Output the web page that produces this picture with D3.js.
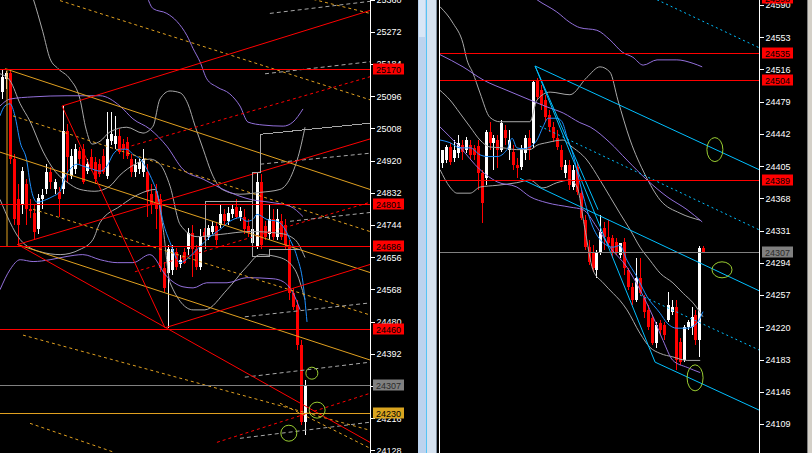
<!DOCTYPE html>
<html><head><meta charset="utf-8">
<script src="https://cdn.jsdelivr.net/npm/d3@7"></script>
<style>
body{margin:0;background:#000;overflow:hidden}
svg{display:block}
text{font-family:"Liberation Sans",Arial,sans-serif;font-size:9px}
</style>
</head><body>
<svg id="c" width="812" height="453"></svg>
<script>
// ---------------- DATA ----------------
const leftTicks = [25360,25272,25184,25096,25008,24920,24832,24744,24656,24568,24480,24392,24304,24216,24128];
const rightTicks = [24590,24553,24516,24479,24442,24405,24368,24331,24294,24257,24220,24183,24146,24109];

// [open, high, low, close]
const leftCandles = [
[25108,25171,25088,25149],[25143,25165,25116,25160],[25160,25171,24910,24924],[24924,24937,24745,24759],
[24814,24855,24690,24745],[24800,24902,24773,24891],[24855,24869,24745,24787],[24787,24814,24764,24781],
[24778,24800,24704,24726],[24732,24828,24718,24819],[24814,24841,24787,24825],[24841,24910,24828,24888],
[24888,24902,24841,24861],[24841,24869,24828,24861],[24833,24847,24767,24814],[24841,25069,24828,25001],
[25001,25020,24861,24929],[24877,24951,24869,24932],[24896,24965,24883,24951],[24946,24957,24910,24924],
[24951,24965,24855,24861],[24891,24924,24883,24910],[24929,24951,24891,24896],[24915,24929,24855,24869],
[24910,24924,24874,24883],[24932,24951,24883,24888],[24877,25053,24869,24979],[24973,25053,24962,24992],
[24965,25042,24951,24987],[24987,25006,24937,24943],[24965,24979,24924,24951],[24970,24984,24924,24932],
[24924,24937,24874,24888],[24888,24924,24874,24907],[24896,24924,24883,24915],[24888,24951,24874,24924],
[24888,24910,24767,24833],[24828,24855,24773,24800],[24836,24855,24732,24787],[24814,24828,24616,24627],
[24627,24644,24561,24572],[24614,24690,24463,24677],[24622,24690,24608,24677],[24669,24682,24622,24630],
[24636,24663,24627,24649],[24669,24682,24636,24641],[24677,24737,24663,24723],[24723,24745,24603,24677],
[24677,24690,24622,24630],[24630,24732,24622,24712],[24726,24737,24704,24710],[24712,24745,24704,24737],
[24726,24754,24718,24740],[24740,24751,24690,24704],[24745,24800,24737,24773],[24773,24787,24745,24754],
[24754,24792,24743,24778],[24773,24800,24764,24787],[24792,24814,24759,24767],[24767,24792,24754,24781],
[24767,24787,24718,24732],[24740,24759,24710,24723],[24696,24745,24682,24732],[24685,24888,24677,24861],
[24861,24883,24677,24690],[24740,24754,24704,24712],[24718,24800,24704,24759],[24759,24787,24704,24712],
[24712,24787,24704,24759],[24754,24773,24704,24712],[24745,24759,24677,24690],[24690,24704,24540,24559],
[24559,24572,24512,24520],[24526,24540,24402,24416],[24416,24430,24197,24205],[24205,24320,24169,24307]
];

const rightCandles = [
[24409,24424,24403,24424],[24412,24429,24409,24427],[24427,24432,24406,24410],[24414,24435,24410,24424],
[24420,24441,24414,24432],[24429,24435,24412,24421],[24424,24438,24420,24435],[24429,24435,24412,24418],
[24426,24429,24412,24418],[24428,24435,24378,24397],[24397,24401,24340,24363],[24391,24447,24383,24444],
[24444,24456,24424,24432],[24432,24441,24401,24437],[24435,24441,24403,24424],[24424,24458,24421,24455],
[24447,24452,24429,24437],[24424,24447,24412,24435],[24421,24429,24401,24406],[24406,24414,24391,24403],
[24404,24429,24401,24426],[24420,24441,24412,24437],[24437,24447,24412,24424],[24432,24504,24426,24502],
[24504,24506,24481,24484],[24492,24498,24469,24475],[24481,24487,24456,24461],[24464,24469,24444,24450],
[24450,24456,24433,24437],[24437,24447,24424,24427],[24424,24429,24401,24404],[24397,24412,24391,24406],
[24406,24412,24378,24383],[24381,24406,24378,24401],[24404,24410,24372,24375],[24374,24378,24343,24345],
[24343,24349,24309,24312],[24312,24320,24292,24295],[24307,24314,24283,24288],[24286,24309,24277,24307],
[24306,24349,24303,24329],[24334,24341,24309,24324],[24324,24343,24314,24317],[24323,24326,24300,24306],
[24318,24323,24303,24307],[24303,24317,24300,24317],[24318,24323,24280,24288],[24286,24288,24263,24266],
[24266,24271,24246,24251],[24251,24300,24249,24277],[24277,24300,24257,24259],[24254,24257,24231,24237],
[24240,24246,24217,24220],[24231,24234,24200,24202],[24202,24226,24196,24223],[24225,24228,24211,24217],
[24223,24226,24205,24211],[24228,24261,24226,24246],[24238,24251,24234,24243],[24243,24251,24171,24182],
[24203,24208,24177,24180],[24182,24223,24180,24220],[24220,24228,24217,24226],[24220,24243,24211,24232],
[24234,24240,24200,24205],[24205,24313,24186,24311],[24311,24313,24306,24307]
];

// horizontal levels
const leftRedLevels = [25170,24801,24686,24460];
const leftBid = 24307;
const leftOrangeLevel = 24230;
const rightRedLevels = [24598,24535,24504,24389];
const rightBid = 24307;

// trend lines: [[barIndex, price],[barIndex, price]]
const leftRedSolid = [
 [[14.85,25069],[91.1,25330]], [[14.85,25069],[40.35,24463]], [[40.35,24463],[91.1,24636]],
 [[3.96,24690],[91.1,24150]], [[3.71,24690],[91.1,24979]]
];
const leftOrangeSolid = [
 [[0.74,25171],[91.1,24841]], [[-0.5,24943],[91.1,24614]], [[3.96,24690],[91.1,24375]],
 [[1.24,25171],[1.24,24685]]
];
const leftOrangeDash = [
 [[14.36,25357],[91.1,25086]], [[71.3,25376],[91.1,25322]], [[2.72,25042],[91.1,24726]],
 [[7.67,24787],[91.1,24498]], [[5.2,24443],[91.1,24183]], [[6.93,24202],[27.97,24122]],
 [[68.8,24257],[91.1,24134]]
];
const leftRedDash = [
 [[29.2,24951],[91.1,25149]], [[32.9,24616],[91.1,24806]], [[53.2,24150],[91.1,24284]]
];
const leftGrayDash = [
 [[66.3,25322],[91.1,25355]], [[65.1,25157],[91.1,25190]], [[63.9,24910],[91.1,24940]],
 [[71.3,24754],[91.1,24778]], [[60.1,24493],[91.1,24531]], [[60.1,24328],[91.1,24369]],
 [[58.9,24161],[91.1,24205]]
];
const leftGraySteps = [
 [[50.25,24677],[50.25,24808],[62.1,24808],[62.1,24888],[64.1,24888],[64.1,24992],[91.1,25022]],
 [[62.1,24808],[62.1,24658],[66.3,24658],[66.3,24677],[73.8,24677]]
];

const rightCyanSolid = [
 [[23.5,24520],[80.05,24401]], [[19.7,24391],[80.05,24262]], [[53.8,24180],[80.05,24125]],
 [[23.5,24520],[53.8,24180]], [[23.5,24520],[39.4,24355]]
];
const rightCyanDot = [
 [[54.3,24596],[80.05,24541]], [[24.7,24451],[80.05,24332]], [[50,24257],[80.05,24194]]
];

// indicator curves: [barIndex, price]
const leftUpperBand = [[6.9,25390],[7.7,25363],[10.1,25272],[11.9,25198],[13.9,25171],[16.8,25143],[19.3,25088],[20.8,25006],[22.3,24965],[24.3,24973],[26.7,24998],[30.9,25011],[34.9,24995],[37.4,25014],[39.1,25088],[41.6,25110],[44.1,25105],[46.0,25075],[47.8,25014],[49.8,24951],[52.0,24883],[54.5,24841],[58.9,24828],[63.9,24833],[68.8,24841],[71.8,24883],[73.8,24951],[75.0,25011]];
const leftMidBand = [[-0.5,25157],[2.0,25138],[4.5,25075],[6.9,25028],[10.1,24946],[13.1,24891],[16.1,24861],[19.3,24841],[23.0,24836],[26.7,24850],[29.2,24880],[32.9,24910],[36.6,24924],[39.1,24910],[41.6,24850],[44.1,24745],[48.3,24712],[54.0,24718],[61.4,24726],[68.8,24721],[72.5,24704],[75.0,24655]];
const leftLowerBand = [[-0.5,24814],[4.5,24704],[9.4,24671],[14.4,24663],[19.3,24677],[22.5,24704],[24.3,24751],[29.2,24795],[34.9,24833],[37.9,24841],[39.9,24732],[41.6,24586],[47.3,24512],[50.2,24512],[55.7,24567],[60.6,24630],[63.9,24663],[68.8,24655],[72.5,24622],[75.0,24540]];
const leftPurpleA = [[35.4,25390],[36.1,25363],[37.4,25335],[40.8,25322],[43.3,25300],[45.8,25261],[47.3,25226],[49.0,25190],[50.7,25143],[53.2,25121],[56.4,25102],[58.9,25069],[60.9,25025],[64.6,25017],[69.6,25014],[72.0,25025],[74.5,25061]];
const leftPurpleB = [[-0.5,25069],[2.0,25088],[7.7,25094],[16.1,25097],[24.3,25097],[29.2,25069],[32.4,25034],[36.6,25006],[40.8,24959],[44.8,24896],[49.8,24869],[56.4,24833],[61.4,24814],[66.3,24806],[71.3,24795],[74.5,24767]];
const leftPurpleC = [[-0.5,24567],[2.0,24622],[4.5,24649],[7.7,24644],[11.9,24649],[16.1,24658],[20.0,24663],[24.3,24649],[28.5,24641],[32.4,24641],[36.6,24663],[40.8,24603],[44.8,24575],[47.3,24572],[50.7,24586],[55.7,24586],[60.6,24600],[67.1,24597],[69.6,24589],[72.0,24559],[73.8,24512]];
const leftBlueMA = [[-0.5,25042],[0.7,25069],[2.0,25075],[3.2,25042],[4.5,24970],[6.2,24915],[6.9,24861],[7.7,24822],[8.7,24806],[11.1,24814],[12.6,24822],[14.4,24836],[15.1,24861],[16.8,24896],[18.6,24910],[20.0,24905],[22.5,24896],[24.3,24891],[26.0,24905],[27.5,24937],[29.2,24951],[30.9,24951],[32.4,24937],[34.2,24924],[35.9,24896],[37.4,24861],[38.4,24833],[39.9,24751],[41.6,24696],[44.1,24641],[46.5,24658],[49.0,24685],[51.5,24712],[54.0,24732],[56.4,24754],[58.9,24764],[60.6,24754],[62.1,24759],[63.1,24773],[65.6,24759],[68.1,24754],[69.6,24740],[71.3,24704],[73.0,24658],[74.5,24586],[75.5,24479]];

const rightUpperBand = [[-0.5,24588],[2.8,24569],[5.3,24546],[6.3,24527],[7.8,24512],[9.6,24489],[12.1,24461],[14.6,24456],[22.2,24456],[24.0,24481],[27.3,24490],[32.3,24487],[36.6,24507],[39.9,24519],[42.4,24513],[44.4,24481],[47.5,24435],[51.3,24395],[55.1,24366],[60.1,24351],[65.2,24343]];
const rightMidBand = [[-0.5,24492],[2.0,24481],[4.5,24466],[7.1,24450],[9.6,24435],[12.1,24427],[15.4,24426],[18.9,24424],[22.2,24424],[24.0,24429],[26.5,24432],[30.6,24435],[32.3,24429],[36.6,24412],[39.9,24389],[42.4,24370],[44.9,24351],[47.5,24332],[50.0,24312],[52.5,24297],[55.1,24282],[58.3,24271],[60.9,24259],[63.4,24248],[65.9,24232]];
const rightLowerBand = [[-0.5,24401],[2.0,24381],[3.8,24374],[7.1,24374],[9.6,24381],[13.9,24383],[18.9,24386],[22.2,24389],[25.5,24380],[29.0,24386],[32.3,24389],[34.1,24381],[36.0,24335],[38.1,24286],[40.7,24271],[43.2,24259],[44.9,24251],[46.7,24240],[50.0,24213],[52.5,24197],[55.1,24190],[58.3,24186],[61.9,24182],[65.2,24182]];
const rightPurpleA = [[21.5,24605],[24.0,24596],[29.0,24582],[32.3,24570],[34.8,24564],[39.1,24561],[42.4,24550],[45.5,24536],[48.2,24530],[50.8,24521],[54.3,24527],[59.3,24527],[63.4,24523],[65.7,24519]];
const rightPurpleB = [[-0.5,24533],[5.3,24519],[10.4,24504],[16.4,24492],[22.2,24481],[26.5,24473],[30.6,24466],[34.8,24455],[37.4,24450],[42.4,24432],[46.7,24412],[51.8,24389],[56.8,24370],[61.9,24355],[65.7,24341]];
const rightPurpleC = [[-0.5,24450],[4.5,24427],[9.6,24401],[13.9,24387],[18.9,24381],[22.2,24370],[26.5,24363],[32.3,24358],[35.6,24355],[39.1,24335],[42.4,24312],[46.7,24289],[50.0,24263],[53.3,24232],[55.8,24205],[58.3,24182],[61.9,24174],[65.2,24168]];
const rightBlueMA = [[-0.5,24435],[2.0,24432],[4.5,24426],[7.1,24426],[9.6,24418],[11.6,24416],[13.9,24416],[16.4,24424],[17.7,24437],[18.9,24426],[20.5,24425],[22.2,24427],[24.0,24435],[25.5,24450],[26.8,24460],[29.0,24460],[30.3,24456],[31.6,24438],[33.1,24418],[34.8,24386],[38.1,24335],[40.7,24317],[43.2,24312],[44.9,24314],[46.7,24297],[49.2,24278],[51.8,24255],[55.1,24236],[56.8,24225],[59.3,24219],[61.9,24219],[64.4,24225],[65.9,24238]];

// annotation ellipses (barIndex, price)
const leftMarks = [[76.7,24339],[78.0,24238],[71.0,24175]];
const rightMarks = [[68.9,24424],[70.7,24286],[63.9,24162]];

// ---------------- DRAWING ----------------
const W = 812, H = 453;
const svg = d3.select('#c');
svg.append('rect').attr('width', W).attr('height', H).attr('fill', '#000');
const defs = svg.append('defs');

const COL = {red:'#ff0000', orange:'#e0a020', gray:'#a8a8a8', purple:'#9370db', blue:'#1e90ff', cyan:'#00bfff', green:'#9acd32', bid:'#808080'};

function drawPanel(cfg) {
  const x = cfg.x, y = cfg.y;
  defs.append('clipPath').attr('id', cfg.id).append('rect')
    .attr('x', cfg.left).attr('y', 0).attr('width', cfg.axisX - cfg.left).attr('height', H);
  const plot = svg.append('g').attr('clip-path', `url(#${cfg.id})`);

  // candles
  const cg = plot.append('g').attr('shape-rendering', 'crispEdges');
  cfg.candles.forEach((c, i) => {
    const [o, h, l, cl] = c;
    const up = cl >= o;
    const cx = Math.round(x(i)) + 0.5;
    const col = up ? '#ffffff' : COL.red;
    cg.append('line').attr('x1', cx).attr('x2', cx).attr('y1', y(h)).attr('y2', y(l)).attr('stroke', col);
    const top = y(Math.max(o, cl)), bot = y(Math.min(o, cl));
    cg.append('rect').attr('x', cx - 1.5).attr('width', 3)
      .attr('y', top).attr('height', Math.max(1, bot - top)).attr('fill', col);
  });

  // indicators
  const curve = d3.line().x(d => x(d[0])).y(d => y(d[1])).curve(d3.curveMonotoneX);
  const ind = (arr, col) => plot.append('path').attr('d', curve(arr)).attr('fill', 'none').attr('stroke', col).attr('stroke-width', 1);
  cfg.bands.forEach(b => ind(b, COL.gray));
  cfg.purples.forEach(b => ind(b, COL.purple));
  ind(cfg.blue, COL.blue);

  // trend lines
  const seg = (list, col, dash) => list.forEach(p => {
    plot.append('line')
      .attr('x1', x(p[0][0])).attr('y1', y(p[0][1]))
      .attr('x2', x(p[1][0])).attr('y2', y(p[1][1]))
      .attr('stroke', col).attr('stroke-width', 1)
      .attr('stroke-dasharray', dash || null);
  });
  (cfg.lines || []).forEach(L => seg(L.data, L.col, L.dash));
  const poly = d3.line().x(d => x(d[0])).y(d => y(d[1]));
  (cfg.steps || []).forEach(s => plot.append('path').attr('d', poly(s)).attr('fill', 'none')
    .attr('stroke', COL.gray).attr('shape-rendering', 'crispEdges'));

  // horizontal levels
  const hl = plot.append('g').attr('shape-rendering', 'crispEdges');
  const hline = (v, col) => hl.append('line').attr('x1', cfg.left).attr('x2', cfg.axisX)
    .attr('y1', Math.round(y(v)) + 0.5).attr('y2', Math.round(y(v)) + 0.5).attr('stroke', col);
  cfg.redLevels.forEach(v => hline(v, COL.red));
  hline(cfg.bid, COL.bid);
  if (cfg.orange != null) hline(cfg.orange, COL.orange);

  // ellipses
  cfg.marks.forEach((m, i) => {
    const r = cfg.markR[i];
    plot.append('ellipse').attr('cx', x(m[0])).attr('cy', y(m[1]))
      .attr('rx', r[0]).attr('ry', r[1]).attr('fill', 'none').attr('stroke', COL.green).attr('stroke-width', 1);
  });

  // axis
  svg.append('line').attr('x1', cfg.axisX + 0.5).attr('x2', cfg.axisX + 0.5).attr('y1', 0).attr('y2', H)
    .attr('stroke', '#fff').attr('shape-rendering', 'crispEdges');
  const ax = svg.append('g').attr('transform', `translate(${cfg.axisX + 0.5},0)`)
    .call(d3.axisRight(y).tickValues(cfg.ticks).tickFormat(d3.format('d')).tickSize(4).tickSizeOuter(0).tickPadding(2));
  ax.select('.domain').remove();
  ax.selectAll('line').attr('stroke', '#fff').attr('shape-rendering', 'crispEdges');
  ax.selectAll('text').attr('fill', '#fff').style('font-size', '9px').style('font-family', '"Liberation Sans",Arial,sans-serif');

  // price labels
  const lab = (v, fill, tcol) => {
    const yy = Math.round(y(v));
    svg.append('rect').attr('x', cfg.axisX + 3).attr('y', yy - 5.5).attr('width', 31).attr('height', 11).attr('fill', fill);
    svg.append('text').attr('x', cfg.axisX + 6).attr('y', yy + 3.5).attr('fill', tcol).text(v);
  };
  cfg.redLevels.forEach(v => lab(v, COL.red, '#000'));
  lab(cfg.bid, COL.bid, '#2a2a2a');
  if (cfg.orange != null) lab(cfg.orange, '#daa520', '#000');
}

drawPanel({
  id: 'clipL', left: 0, axisX: 370,
  x: d3.scaleLinear().domain([0, 75]).range([2, 305]),
  y: d3.scaleLinear().domain([25360, 24128]).range([-0.5, 450.4]),
  candles: leftCandles, ticks: leftTicks,
  bands: [leftUpperBand, leftMidBand, leftLowerBand],
  purples: [leftPurpleA, leftPurpleB, leftPurpleC],
  blue: leftBlueMA,
  lines: [
    {data: leftOrangeDash, col: COL.orange, dash: '3,3'},
    {data: leftRedDash, col: COL.red, dash: '3,3'},
    {data: leftGrayDash, col: COL.gray, dash: '4,3'},
    {data: leftOrangeSolid, col: COL.orange},
    {data: leftRedSolid, col: COL.red}
  ],
  steps: leftGraySteps,
  redLevels: leftRedLevels, bid: leftBid, orange: leftOrangeLevel,
  marks: leftMarks, markR: [[6,6],[8,8],[8,8]]
});

drawPanel({
  id: 'clipR', left: 440, axisX: 759,
  x: d3.scaleLinear().domain([0, 66]).range([442, 703.4]),
  y: d3.scaleLinear().domain([24590, 24109]).range([5, 424]),
  candles: rightCandles, ticks: rightTicks,
  bands: [rightUpperBand, rightMidBand, rightLowerBand],
  purples: [rightPurpleA, rightPurpleB, rightPurpleC],
  blue: rightBlueMA,
  lines: [
    {data: rightCyanDot, col: COL.cyan, dash: '2,3'},
    {data: rightCyanSolid, col: COL.cyan}
  ],
  redLevels: rightRedLevels, bid: rightBid, orange: null,
  marks: rightMarks, markR: [[8,12],[10,8],[8,13]]
});

// divider between the two windows
const dv = svg.append('g').attr('shape-rendering', 'crispEdges');
dv.append('rect').attr('x', 418).attr('y', 0).attr('width', 8).attr('height', H).attr('fill', '#bcd3ee');
dv.append('rect').attr('x', 419).attr('y', 0).attr('width', 6).attr('height', 37).attr('fill', '#d8e6f6');
dv.append('rect').attr('x', 426).attr('y', 0).attr('width', 1).attr('height', H).attr('fill', '#55c4f5');
dv.append('rect').attr('x', 427).attr('y', 0).attr('width', 9).attr('height', H).attr('fill', '#d5e2f0');
dv.append('rect').attr('x', 436).attr('y', 0).attr('width', 1).attr('height', H).attr('fill', '#7a8a9a');
dv.append('rect').attr('x', 439).attr('y', 0).attr('width', 1).attr('height', H).attr('fill', '#ffffff');
// right window edge
dv.append('rect').attr('x', 807).attr('y', 0).attr('width', 5).attr('height', H).attr('fill', '#d4d0c8');
dv.append('rect').attr('x', 807).attr('y', 0).attr('width', 1).attr('height', H).attr('fill', '#808080');
</script>
</body></html>
